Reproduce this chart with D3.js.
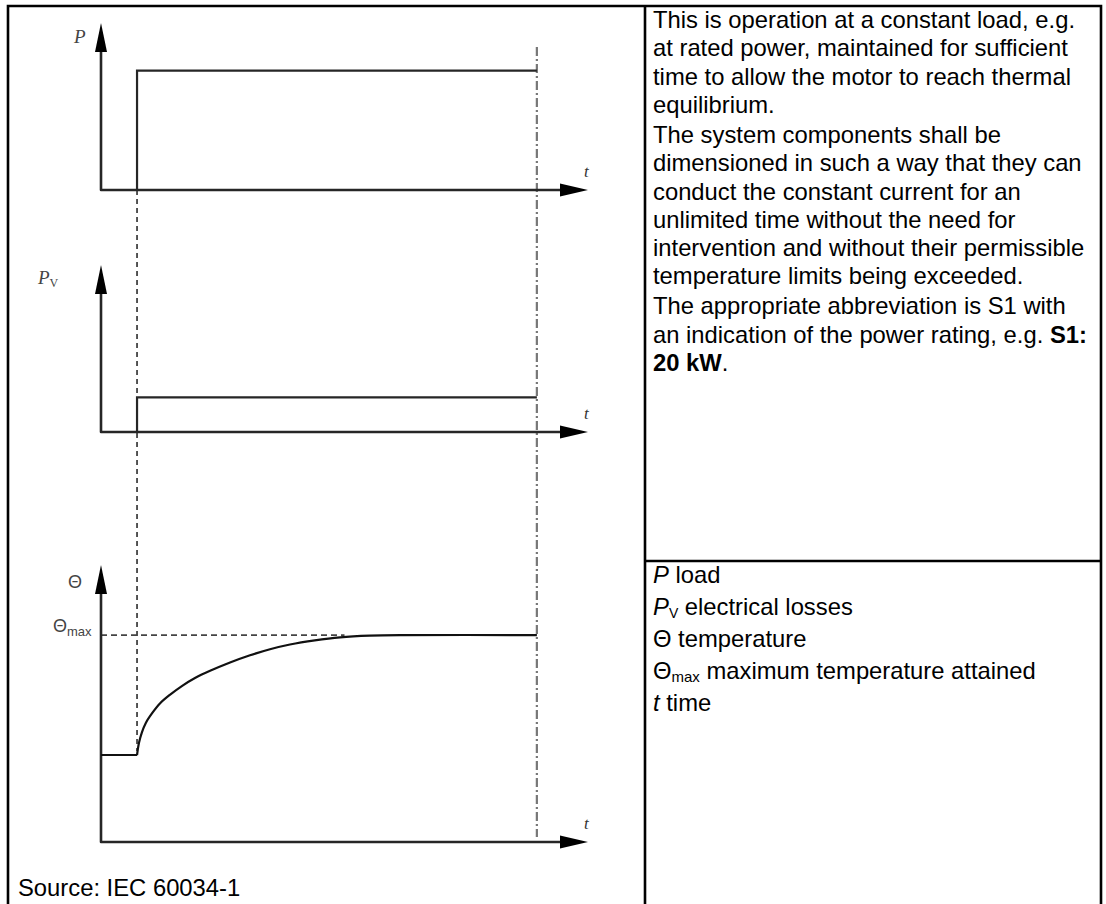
<!DOCTYPE html>
<html>
<head>
<meta charset="utf-8">
<script src="https://cdn.jsdelivr.net/npm/d3@7"></script>
<style>
html,body{margin:0;padding:0;background:#fff;}
svg{display:block;}
</style>
</head>
<body>
<svg id="chart" width="1106" height="904"></svg>
<script>
// ---------------- DATA ----------------
const timeDomain = [0, 100];          // t axis (arbitrary time units)
const switchOnTime = 7.4;             // load applied
const endTime = 89.5;                 // dash-dot end marker
const loadTimes = [0, 7.4, 7.4, 89.5];
const loadValues = [0, 0, 1.0, 1.0];         // P
const lossValues = [0, 0, 0.29, 0.29];       // P_V
const powerDomain = [0, 1.4];
const thetaDomain = [0, 100];
const thetaAmbient = 31.4;                   // flat before switch-on
const thetaTimes  = [7.4, 7.8, 8.4, 9.2, 10.5, 12.1, 14.2, 16.6, 19.3, 22.4, 26.5, 30.6, 34.7, 38.8, 43.9, 49.1, 55.2, 62, 89.5];
const thetaValues = [31.4, 35.8, 39.6, 43.0, 46.5, 50.0, 53.2, 56.3, 59.2, 61.8, 64.8, 67.4, 69.6, 71.3, 72.8, 73.9, 74.5, 74.7, 74.7];
const thetaMax = 74.7;
const thetaMaxDashEnd = 50;

const para1 = ["This is operation at a constant load, e.g.", "at rated power, maintained for sufficient", "time to allow the motor to reach thermal", "equilibrium."];
const para2 = ["The system components shall be", "dimensioned in such a way that they can", "conduct the constant current for an", "unlimited time without the need for", "intervention and without their permissible", "temperature limits being exceeded."];
const para3Line1 = "The appropriate abbreviation is S1 with";
const para3Line2 = "an indication of the power rating, e.g. ";
const para3Bold1 = "S1:";
const para3Bold2 = "20 kW";
const sourceText = "Source: IEC 60034-1";

// ---------------- LAYOUT ----------------
const svg = d3.select("#chart");
const ink = "#262626";
const x = d3.scaleLinear().domain(timeDomain).range([101, 588]);
const yP = d3.scaleLinear().domain(powerDomain).range([190, 23]);
const yPV = d3.scaleLinear().domain(powerDomain).range([432, 265]);
const yT = d3.scaleLinear().domain(thetaDomain).range([842, 565]);
const dividerY = 561;

// frame
const frame = svg.append("g").attr("stroke", "#000").attr("stroke-width", 2.6).attr("fill", "none");
frame.append("path").attr("d", "M8,906 V6 H1101 V906");
frame.append("line").attr("x1", 645).attr("x2", 645).attr("y1", 6).attr("y2", 906);
frame.append("line").attr("x1", 645).attr("x2", 1101).attr("y1", dividerY).attr("y2", dividerY);

// reference lines
const tSwitch = x(switchOnTime);
svg.append("line").attr("x1", tSwitch).attr("x2", tSwitch)
  .attr("y1", yP(0)).attr("y2", yT(thetaAmbient) - 4)
  .attr("stroke", "#444").attr("stroke-width", 1.8).attr("stroke-dasharray", "5,4");
svg.append("line").attr("x1", x(endTime)).attr("x2", x(endTime))
  .attr("y1", 47).attr("y2", 837)
  .attr("stroke", "#777").attr("stroke-width", 2.2).attr("stroke-dasharray", "9,3,2,3");
svg.append("line").attr("x1", x(0)).attr("x2", x(thetaMaxDashEnd))
  .attr("y1", yT(thetaMax)).attr("y2", yT(thetaMax))
  .attr("stroke", "#444").attr("stroke-width", 1.8).attr("stroke-dasharray", "6,4");

// axes with arrows
function axes(y) {
  const g = svg.append("g");
  const x0 = x(0), yb = y(0), yt = y.range()[1], xe = x.range()[1];
  g.append("path").attr("d", `M${x0},${yt + 20} V${yb} H${xe - 20}`)
    .attr("fill", "none").attr("stroke", ink).attr("stroke-width", 2.6).attr("stroke-linejoin", "round");
  g.append("path").attr("d", `M${x0},${yt} L${x0 - 6},${yt + 29} L${x0 + 6},${yt + 29} Z`).attr("fill", "#000");
  g.append("path").attr("d", `M${xe},${yb} L${xe - 28},${yb - 6.5} L${xe - 28},${yb + 6.5} Z`).attr("fill", "#000");
  g.append("text").attr("x", xe - 4).attr("y", yb - 13)
    .attr("font-family", "Liberation Serif, Times New Roman, serif").attr("font-style", "italic")
    .attr("font-size", 17).attr("fill", "#333").text("t");
}
axes(yP); axes(yPV); axes(yT);

// series
const step = d3.line().x((d, i) => x(loadTimes[i])).y(d => d);
svg.append("path").attr("d", step(loadValues.map(v => yP(v))))
  .attr("fill", "none").attr("stroke", ink).attr("stroke-width", 2.2);
svg.append("path").attr("d", step(lossValues.map(v => yPV(v))))
  .attr("fill", "none").attr("stroke", ink).attr("stroke-width", 2.2);
const thetaPts = thetaTimes.map((t, i) => [x(t), yT(thetaValues[i])]);
const flat = d3.line()([[x(0), yT(thetaAmbient)], [x(switchOnTime), yT(thetaAmbient)]]);
const curve = d3.line().curve(d3.curveCatmullRom.alpha(0.5))(thetaPts);
svg.append("path").attr("d", flat + curve)
  .attr("fill", "none").attr("stroke", "#111").attr("stroke-width", 2.2).attr("stroke-linejoin", "round");

// axis labels
const serif = "Liberation Serif, Times New Roman, serif";
svg.append("text").attr("x", 74).attr("y", 43).attr("font-family", serif).attr("font-style", "italic")
  .attr("font-size", 19).attr("fill", "#444").text("P");
const pv = svg.append("text").attr("x", 38).attr("y", 284).attr("font-family", serif).attr("fill", "#444");
pv.append("tspan").attr("font-style", "italic").attr("font-size", 19).text("P");
pv.append("tspan").attr("font-size", 12).attr("dy", 3).text("V");
svg.append("text").attr("x", 68).attr("y", 588).attr("font-family", "Liberation Sans, Arial, sans-serif")
  .attr("font-size", 18).attr("fill", "#444").text("Θ");
const tm = svg.append("text").attr("x", 53).attr("y", 632).attr("font-family", "Liberation Sans, Arial, sans-serif").attr("fill", "#444");
tm.append("tspan").attr("font-size", 18).text("Θ");
tm.append("tspan").attr("font-size", 13).attr("dy", 4).text("max");

// text panel
const sans = "Liberation Sans, Arial, sans-serif";
const fs = 23.8, lh = 28.3, pg = 1.7, tx = 653;
const tg = svg.append("g").attr("font-family", sans).attr("font-size", fs).attr("fill", "#000");
let yy = 28;
para1.forEach(s => { tg.append("text").attr("x", tx).attr("y", yy).text(s); yy += lh; });
yy += pg;
para2.forEach(s => { tg.append("text").attr("x", tx).attr("y", yy).text(s); yy += lh; });
yy += pg;
tg.append("text").attr("x", tx).attr("y", yy).text(para3Line1); yy += lh;
const l2 = tg.append("text").attr("x", tx).attr("y", yy);
l2.append("tspan").text(para3Line2);
l2.append("tspan").attr("font-weight", "bold").text(para3Bold1);
yy += lh;
const l3 = tg.append("text").attr("x", tx).attr("y", yy);
l3.append("tspan").attr("font-weight", "bold").text(para3Bold2);
l3.append("tspan").text(".");

// legend
const legY0 = 583, legStep = 32;
const leg = svg.append("g").attr("font-family", sans).attr("font-size", fs).attr("fill", "#000");
let t1 = leg.append("text").attr("x", tx).attr("y", legY0);
t1.append("tspan").attr("font-style", "italic").text("P");
t1.append("tspan").text(" load");
let t2 = leg.append("text").attr("x", tx).attr("y", legY0 + legStep);
t2.append("tspan").attr("font-style", "italic").text("P");
t2.append("tspan").attr("font-size", 14).attr("dy", 3).text("V");
t2.append("tspan").attr("dy", -3).text(" electrical losses");
leg.append("text").attr("x", tx).attr("y", legY0 + 2 * legStep).text("Θ temperature");
let t4 = leg.append("text").attr("x", tx).attr("y", legY0 + 3 * legStep);
t4.append("tspan").text("Θ");
t4.append("tspan").attr("font-size", 15).attr("dy", 3).text("max");
t4.append("tspan").attr("dy", -3).text(" maximum temperature attained");
let t5 = leg.append("text").attr("x", tx).attr("y", legY0 + 4 * legStep);
t5.append("tspan").attr("font-style", "italic").text("t");
t5.append("tspan").text(" time");

// source
svg.append("text").attr("x", 18).attr("y", 896).attr("font-family", sans).attr("font-size", fs)
  .attr("fill", "#000").text(sourceText);
</script>
</body>
</html>
